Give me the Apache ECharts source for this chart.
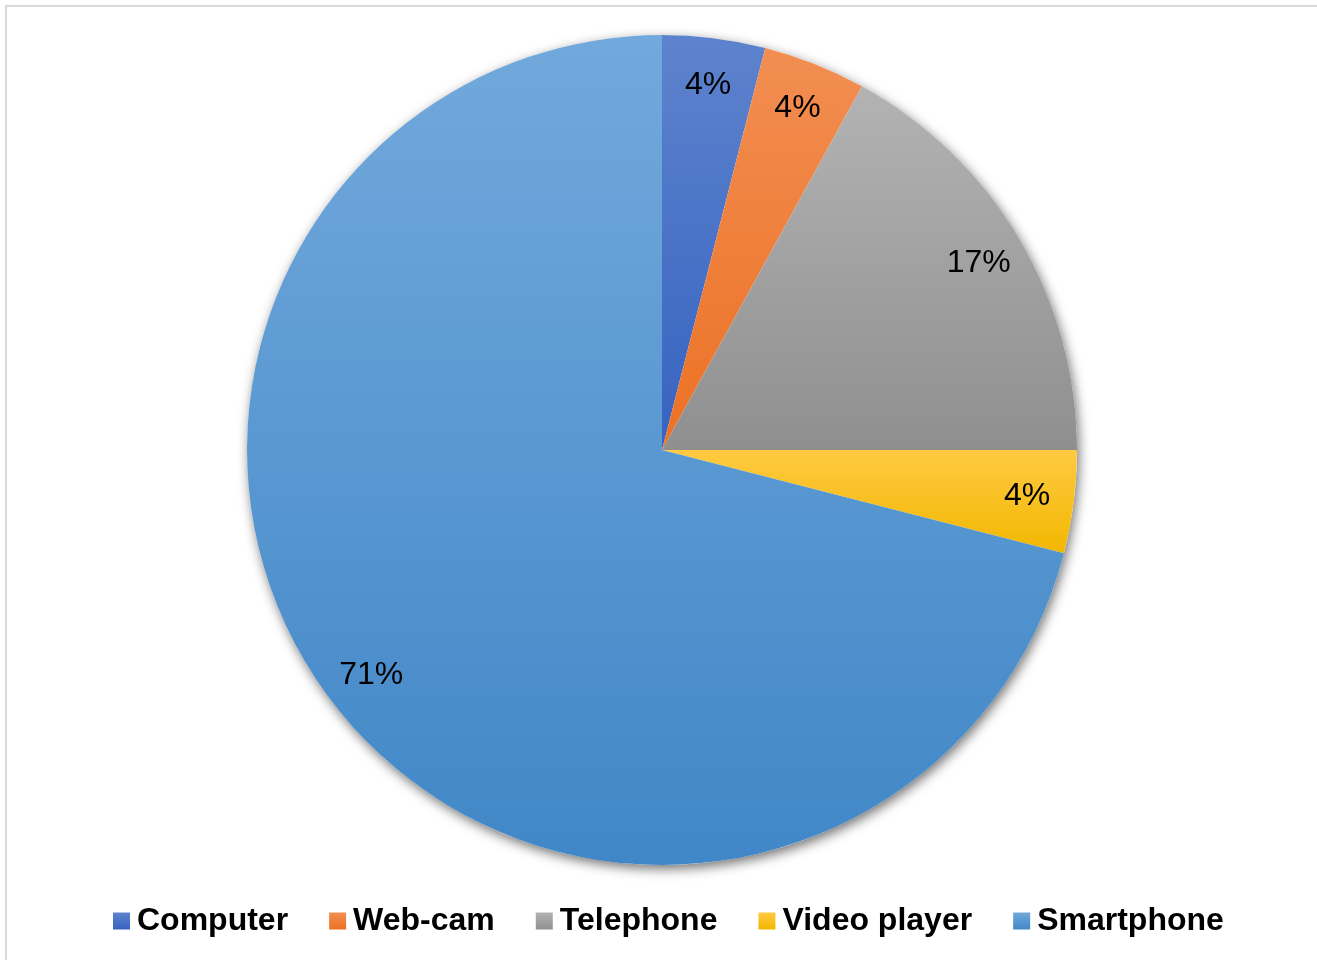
<!DOCTYPE html>
<html>
<head>
<meta charset="utf-8">
<script src="https://cdn.jsdelivr.net/npm/echarts@6/dist/echarts.min.js"></script>
<style>
  html, body { margin: 0; padding: 0; background: #fff; }
  #frame { position: absolute; left: 5px; top: 5px; width: 1330px; height: 980px;
           border-top: 2px solid #d9d9d9; border-left: 2px solid #d9d9d9; box-sizing: border-box; }
  #chart { position: absolute; left: 0; top: 0; width: 1317px; height: 960px; }
</style>
</head>
<body>
<div id="frame"></div>
<div id="chart"></div>
<script>
// Device types and their share (%)
const categories = ['Computer', 'Web-cam', 'Telephone', 'Video player', 'Smartphone'];
const shares = [4, 4, 17, 4, 71];
// Top / bottom gradient stops per slice
const topColors = ['#5e83cd', '#f28e52', '#b3b3b3', '#ffca42', '#72a9dc'];
const bottomColors = ['#3663c1', '#ec7124', '#8f8f8f', '#f2b700', '#4187c7'];

const grad = (i) => new echarts.graphic.LinearGradient(0, 0, 0, 1, [
  { offset: 0, color: topColors[i] },
  { offset: 1, color: bottomColors[i] }
]);

const center = [662, 450];
const R = 415;

const chart = echarts.init(document.getElementById('chart'), null, { renderer: 'canvas' });
chart.setOption({
  animation: false,
  backgroundColor: 'transparent',
  legend: {
    data: categories,
    bottom: 18,
    left: 108,
    itemWidth: 17,
    itemHeight: 17,
    itemGap: 41,
    icon: 'rect',
    textStyle: { fontFamily: 'Liberation Sans, Arial', fontWeight: 'bold', fontSize: 32, color: '#000', padding: [0, 0, 0, 2] }
  },
  series: [
    {
      // drop shadow under the whole pie
      type: 'pie', silent: true, center: center, radius: R, startAngle: 90,
      label: { show: false }, labelLine: { show: false },
      itemStyle: { color: '#ffffff', shadowBlur: 12, shadowOffsetX: 2, shadowOffsetY: 4, shadowColor: 'rgba(0,0,0,0.55)' },
      data: [{ value: 1, name: '' }],
      legendHoverLink: false
    },
    {
      type: 'pie', name: 'Devices', center: center, radius: R,
      startAngle: 90, clockwise: true,
      label: { show: false }, labelLine: { show: false },
      itemStyle: { borderWidth: 0 },
      data: categories.map((n, i) => ({ name: n, value: shares[i], itemStyle: { color: grad(i) } }))
    },
    {
      // percentage labels placed inside the slices
      type: 'pie', silent: true, center: center, radius: [296, 434],
      startAngle: 90, clockwise: true, legendHoverLink: false,
      itemStyle: { color: 'rgba(0,0,0,0)' },
      labelLine: { show: false },
      label: {
        show: true, position: 'inside',
        formatter: (p) => p.value + '%',
        fontFamily: 'Liberation Sans, Arial', fontSize: 32, color: '#000'
      },
      data: categories.map((n, i) => ({ name: n + ' ', value: shares[i] }))
    }
  ]
});
</script>
</body>
</html>
